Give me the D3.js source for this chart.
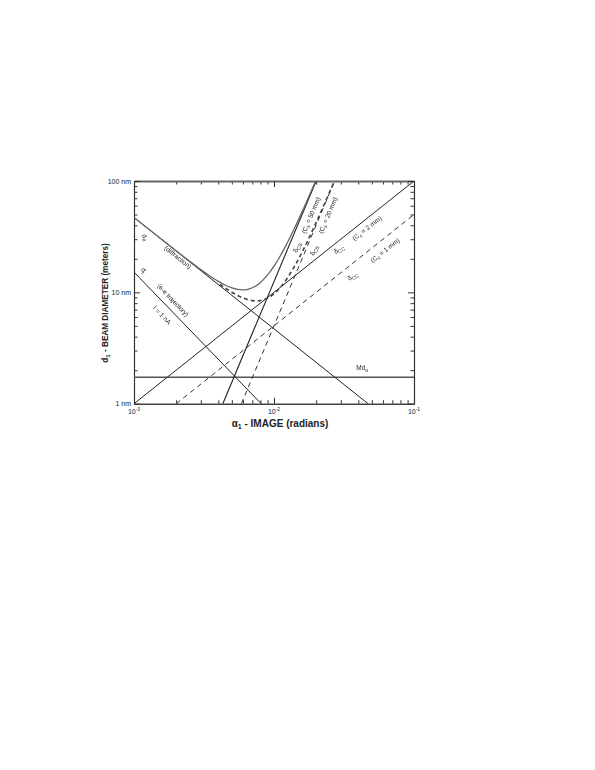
<!DOCTYPE html>
<html><head><meta charset="utf-8">
<script src="https://cdn.jsdelivr.net/npm/d3@7"></script>
<style>body{margin:0;background:#fff;} svg{display:block;} text{font-family:"Liberation Sans",Arial,sans-serif;fill:#222;}</style>
</head><body><svg id="c" width="595" height="770"></svg>
<script>
// alpha (rad) vs diameter (nm)
const xMajor = [1e-3, 1e-2, 1e-1];
const xMajorLabels = [["10","-3"],["10","-2"],["10","-1"]];
const yMajor = [1, 10, 100];
const yMajorLabels = ["1 nm","10 nm","100 nm"];

const diffraction = [[0.001,47],[0.047,1]];
const trajectory  = [[0.001,15.2],[0.0081,1]];
const chromatic2  = [[0.001,1],[0.1,100]];
const chromatic1  = [[0.002,1],[0.1,50]];
const spherical50 = [[0.00431,1],[0.020,100]];
const spherical20 = [[0.00585,1],[0.0271,100]];
const md0         = [[0.001,1.73],[0.1,1.73]];
const total50 = [[0.001,47.0],[0.0015,31.4],[0.002,23.6],[0.0025,19.0],[0.003,16.0],[0.0035,13.97],[0.004,12.55],[0.0045,11.58],[0.005,10.96],[0.0055,10.63],[0.006,10.53],[0.0065,10.66],[0.007,11.0],[0.0075,11.54],[0.008,12.28],[0.009,14.33],[0.010,17.2],[0.011,20.9],[0.012,25.5],[0.013,31.1],[0.014,37.66],[0.015,45.3],[0.016,54.1],[0.017,64.2],[0.018,75.5],[0.019,88.2],[0.0198,99.5]];
const total20 = [[0.0041,11.8],[0.0045,10.90],[0.005,10.03],[0.0055,9.38],[0.006,8.91],[0.0065,8.60],[0.007,8.43],[0.0075,8.38],[0.008,8.44],[0.009,8.87],[0.010,9.7],[0.011,10.93],[0.012,12.56],[0.013,14.6],[0.014,17.08],[0.015,20.0],[0.016,23.4],[0.018,31.77],[0.020,42.35],[0.022,55.38],[0.024,71.08],[0.026,89.69],[0.027,99.5]];

const labels = [
  {t:"d", s:"d", a:1.198e-3, d:31.3, r:60},
  {t:"(diffraction)", s:"", a:2.06e-3, d:20.7, r:38.6},
  {t:"d", s:"t", a:1.179e-3, d:15.8, r:60},
  {t:"(e-e trajectory)", s:"", a:1.90e-3, d:8.51, r:46},
  {t:"I = 1 nA", s:"", a:1.585e-3, d:6.25, r:46},
  {t:"(C", s:"s", e:" = 50 mm)", a:0.01836, d:49.2, r:-67},
  {t:"(C", s:"s", e:" = 20 mm)", a:0.0243, d:49.2, r:-67},
  {t:"δ", s:"CS", a:0.01459, d:25.4, r:-67},
  {t:"δ", s:"CS", a:0.0193, d:23.9, r:-67},
  {t:"δ", s:"CC", a:0.0291, d:24.4, r:-30},
  {t:"δ", s:"CC", a:0.0366, d:14.0, r:-30},
  {t:"(C", s:"c", e:" = 2 mm)", a:0.0461, d:37.7, r:-38.6},
  {t:"(C", s:"c", e:" = 1 mm)", a:0.0621, d:23.9, r:-38.6},
  {t:"Md", s:"o", a:0.0426, d:2.09, r:0}
];

const svg = d3.select("#c");
const x = d3.scaleLog().domain([1e-3,1e-1]).range([134,414]);
const y = d3.scaleLog().domain([1,100]).range([403.7,181]);
const minorX = [], minorY = [];
[1e-3,1e-2].forEach(b=>{for(let k=2;k<=9;k++) minorX.push(b*k);});
[1,10].forEach(b=>{for(let k=2;k<=9;k++) minorY.push(b*k);});

function ax(gen, scale, vals, size, tr){
  const g = svg.append("g").attr("transform",tr)
    .call(gen(scale).tickValues(vals).tickSizeInner(size).tickSizeOuter(0).tickFormat(""));
  g.selectAll("path").attr("stroke","#333").attr("stroke-width",1.1);
  g.selectAll("line").attr("stroke","#333").attr("stroke-width",1);
  return g;
}
ax(d3.axisBottom, x, minorX, -3.5, "translate(0,403.7)");
ax(d3.axisBottom, x, xMajor, -6, "translate(0,403.7)");
ax(d3.axisTop, x, minorX, -3.5, "translate(0,181)");
ax(d3.axisTop, x, xMajor, -6, "translate(0,181)").select("path").attr("stroke","#666").attr("stroke-width",1.8);
ax(d3.axisLeft, y, minorY, -3.5, "translate(134,0)");
ax(d3.axisLeft, y, yMajor, -6, "translate(134,0)");
ax(d3.axisRight, y, minorY, -3.5, "translate(414,0)");
ax(d3.axisRight, y, yMajor, -6, "translate(414,0)");

const txt = svg.append("g").attr("opacity",0.995);

// tick labels
yMajor.forEach((v,i)=>{
  txt.append("text").attr("x",131).attr("y",y(v)+2.5).attr("text-anchor","end")
    .attr("font-size",7).text(yMajorLabels[i]);
});
xMajor.forEach((v,i)=>{
  const t = txt.append("text").attr("x",x(v)).attr("y",414).attr("text-anchor","middle").attr("font-size",7);
  t.append("tspan").text(xMajorLabels[i][0]);
  t.append("tspan").attr("dy",-3).attr("font-size",5).text(xMajorLabels[i][1]);
});

// axis titles
const xt = txt.append("text").attr("x",280).attr("y",427).attr("text-anchor","middle")
  .attr("font-size",10).attr("font-weight","bold");
xt.append("tspan").text("α");
xt.append("tspan").attr("font-size",7).attr("dy",2).text("1");
xt.append("tspan").attr("dy",-2).text(" - IMAGE (radians)");
const yt = txt.append("text").attr("transform","translate(108,303) rotate(-90)").attr("text-anchor","middle")
  .attr("font-size",8.2).attr("font-weight","bold");
yt.append("tspan").text("d");
yt.append("tspan").attr("font-size",6).attr("dy",2).text("1");
yt.append("tspan").attr("dy",-2).text(" - BEAM DIAMETER (meters)");

// lines
const clip = svg.append("clipPath").attr("id","pc").append("rect")
  .attr("x",134).attr("y",181).attr("width",280).attr("height",222.7);
const lineGen = d3.line().x(p=>x(p[0])).y(p=>y(p[1]));
const curveGen = d3.line().x(p=>x(p[0])).y(p=>y(p[1])).curve(d3.curveMonotoneX);
const plot = svg.append("g").attr("clip-path","url(#pc)");
function draw(data, gen, stroke, w, dash){
  plot.append("path").datum(data).attr("d",gen).attr("fill","none")
    .attr("stroke",stroke).attr("stroke-width",w).attr("stroke-dasharray",dash||null);
}
draw(md0, lineGen, "#555", 1.5);
draw(diffraction, lineGen, "#222", 1);
draw(trajectory, lineGen, "#222", 1);
draw(chromatic2, lineGen, "#222", 1);
draw(chromatic1, lineGen, "#333", 1, "5,4");
draw(spherical50, lineGen, "#222", 1.1);
draw(spherical20, lineGen, "#333", 1, "5,4");
draw(total50, curveGen, "#666", 1.3);
draw(total20, curveGen, "#444", 1.6, "4,3");

// annotations
const ann = svg.append("g").attr("opacity",0.995);
labels.forEach(l=>{
  const t = ann.append("text").attr("transform",`translate(${x(l.a)},${y(l.d)}) rotate(${l.r})`)
    .attr("text-anchor","middle").attr("dy","0.35em").attr("font-size",6.5);
  t.append("tspan").text(l.t);
  if(l.s) t.append("tspan").attr("font-size",5).attr("dy",1.5).text(l.s);
  if(l.e) t.append("tspan").attr("dy",-1.5).text(l.e);
});
</script></body></html>
